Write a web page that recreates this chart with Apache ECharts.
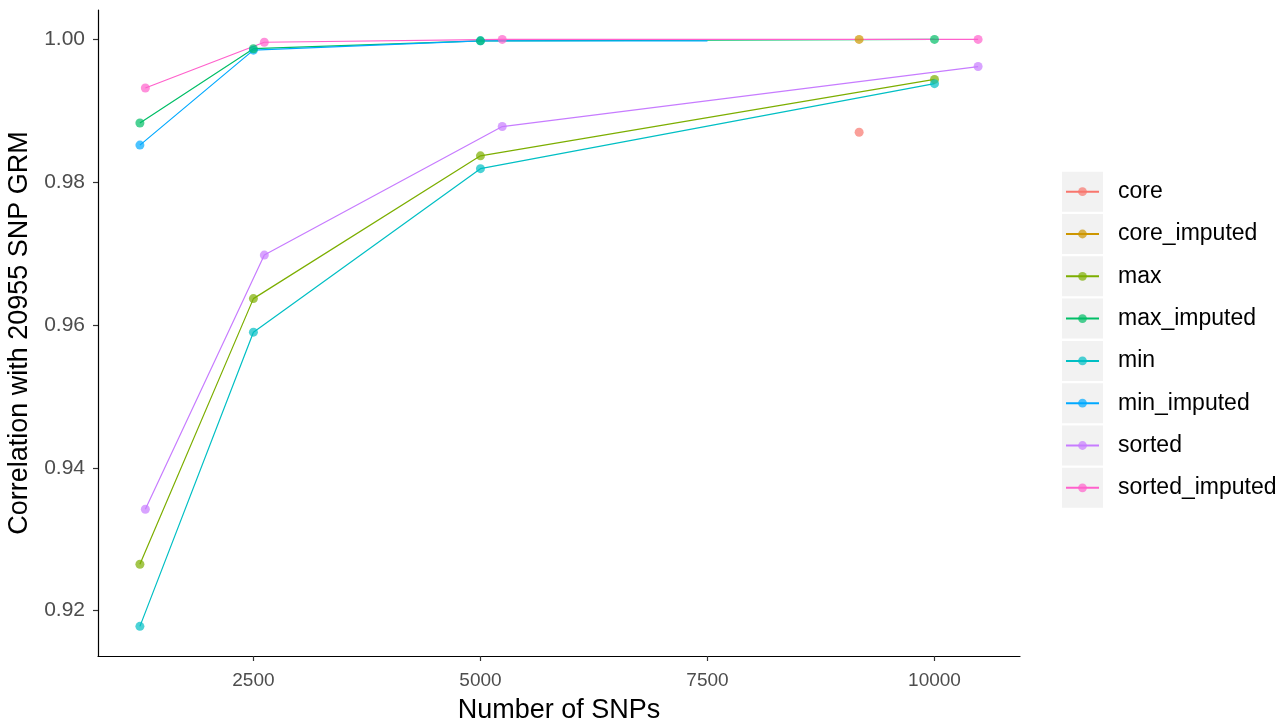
<!DOCTYPE html>
<html>
<head>
<meta charset="utf-8">
<title>Correlation with 20955 SNP GRM</title>
<script src="https://cdn.jsdelivr.net/npm/echarts@6/dist/echarts.min.js"></script>
<style>
    html, body { margin: 0; padding: 0; background: #fff; }
    #snp-corr-line { width: 1284px; height: 726px; }
</style>
</head>
<body>
<div id="snp-corr-line"></div>
<script>
/*---------------------------- data ----------------------------*/
var groupNames = ['core', 'core_imputed', 'max', 'max_imputed', 'min', 'min_imputed', 'sorted', 'sorted_imputed'];
var groupColors = ['#F8766D', '#CD9600', '#7CAE00', '#00BE67', '#00BFC4', '#00A9FF', '#C77CFF', '#FF61CC'];

var xCore = [9170];
var xStd = [1250, 2500, 5000, 10000];
var xMinImputed = [1250, 2500, 5000, 7500];
var xSorted = [1310, 2620, 5240, 10480];

var yCore = [0.9870];
var yCoreImputed = [1.0000];
var yMax = [0.9265, 0.9637, 0.9837, 0.9944];
var yMaxImputed = [0.9883, 0.9987, 0.9998, 1.0000];
var yMin = [0.9178, 0.9590, 0.9819, 0.9938];
var yMinImputed = [0.9852, 0.9985, 0.9998, 0.9998];
var ySorted = [0.9342, 0.9698, 0.9878, 0.9962];
var ySortedImputed = [0.9932, 0.9996, 1.0000, 1.0000];

// min_imputed has no point drawn at its last x
var minImputedPointCount = 3;

var xTicks = [2500, 5000, 7500, 10000];
var yTicks = [0.92, 0.94, 0.96, 0.98, 1.00];
var xRange = [788.5, 10941.5];
var yRange = [0.91365, 1.00412];

var fontName = 'Liberation Sans';

initChart();

function initChart() {
    initCorrChart();
}

function pairs(xs, ys, count) {
    var n = count === undefined ? ys.length : count;
    var out = [];
    for (var i = 0; i < n; i++) {
        out.push([xs[i], ys[i]]);
    }
    return out;
}

function initCorrChart() {
    var myChart = echarts.init(document.getElementById('snp-corr-line'));

    var groups = [
        {x: xCore, y: yCore},
        {x: xCore, y: yCoreImputed},
        {x: xStd, y: yMax},
        {x: xStd, y: yMaxImputed, top: true},
        {x: xStd, y: yMin},
        {x: xMinImputed, y: yMinImputed, points: minImputedPointCount},
        {x: xSorted, y: ySorted},
        {x: xSorted, y: ySortedImputed}
    ];

    var series = [];
    // lines first, points on top (like geom_line + geom_point)
    groups.forEach(function (g, i) {
        series.push({
            name: groupNames[i],
            type: 'line',
            data: pairs(g.x, g.y),
            showSymbol: false,
            symbol: 'circle',
            color: groupColors[i],
            lineStyle: {width: 1.2, color: groupColors[i]},
            z: 2,
            animation: false
        });
    });
    groups.forEach(function (g, i) {
        series.push({
            name: groupNames[i],
            type: 'scatter',
            data: pairs(g.x, g.y, g.points),
            symbol: 'circle',
            symbolSize: 9,
            itemStyle: {color: groupColors[i], opacity: 0.7},
            z: g.top ? 4 : 3,
            animation: false
        });
    });

    // grey legend key boxes
    var keyBoxes = groupNames.map(function (name, i) {
        return {
            type: 'rect',
            left: 1062,
            top: 171.7 + i * 42.3,
            shape: {width: 41, height: 40},
            style: {fill: '#F2F2F2'},
            z: 0
        };
    });

    var option = {
        backgroundColor: '#fff',
        textStyle: {fontFamily: fontName},
        grid: {
            left: 98,
            right: 264,
            top: 10,
            bottom: 70,
            containLabel: false,
            outerBoundsMode: 'none'
        },
        graphic: keyBoxes,
        legend: {
            data: groupNames,
            orient: 'vertical',
            left: 1065,
            top: 178.7,
            padding: 0,
            itemWidth: 33,
            itemHeight: 11,
            itemGap: 16.3,
            selectedMode: false,
            itemStyle: {opacity: 0.7},
            textStyle: {
                fontFamily: fontName,
                fontSize: 23,
                lineHeight: 24,
                color: '#000',
                padding: [2, 0, 0, 14]
            }
        },
        xAxis: {
            type: 'value',
            min: xRange[0],
            max: xRange[1],
            name: 'Number of SNPs',
            nameLocation: 'middle',
            nameGap: 41,
            nameTextStyle: {fontFamily: fontName, fontSize: 27, color: '#000'},
            splitLine: {show: false},
            axisLine: {lineStyle: {color: '#000', width: 1.2}},
            axisTick: {
                customValues: xTicks,
                length: 5,
                lineStyle: {color: '#333', width: 1.2}
            },
            axisLabel: {
                customValues: xTicks,
                margin: 15,
                fontFamily: fontName,
                fontSize: 19,
                color: '#4D4D4D',
                formatter: function (v) { return String(v); }
            }
        },
        yAxis: {
            type: 'value',
            min: yRange[0],
            max: yRange[1],
            name: 'Correlation with 20955 SNP GRM',
            nameLocation: 'middle',
            nameGap: 62,
            nameRotate: 90,
            nameTextStyle: {fontFamily: fontName, fontSize: 27, color: '#000'},
            splitLine: {show: false},
            axisLine: {lineStyle: {color: '#000', width: 1.2}},
            axisTick: {
                customValues: yTicks,
                length: 5,
                lineStyle: {color: '#333', width: 1.2}
            },
            axisLabel: {
                customValues: yTicks,
                margin: 13,
                fontFamily: fontName,
                fontSize: 21,
                color: '#4D4D4D',
                formatter: function (v) { return v.toFixed(2); }
            }
        },
        series: series
    };

    myChart.setOption(option);
}
</script>
</body>
</html>
